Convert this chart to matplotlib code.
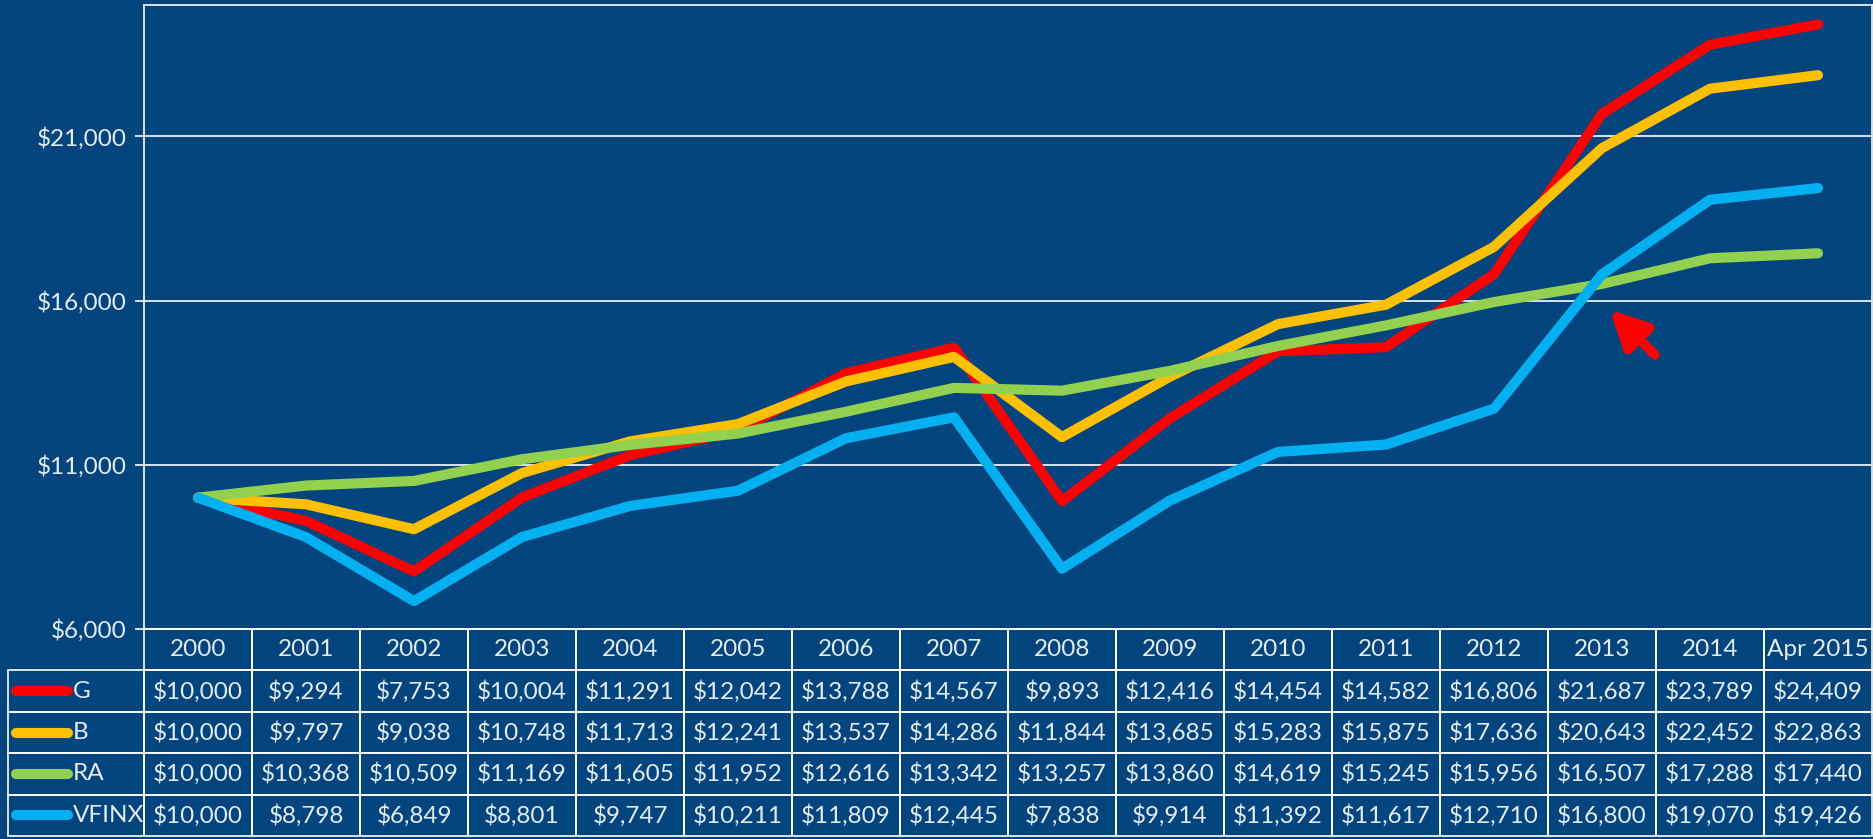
import numpy as np
import matplotlib
matplotlib.use("Agg")
import matplotlib.pyplot as plt
from matplotlib.lines import Line2D

plt.rcParams['font.family'] = ['Lato', 'DejaVu Sans']

# Data
years = ["2000", "2001", "2002", "2003", "2004", "2005", "2006", "2007",
         "2008", "2009", "2010", "2011", "2012", "2013", "2014", "Apr 2015"]
g_vals = [10000, 9294, 7753, 10004, 11291, 12042, 13788, 14567,
          9893, 12416, 14454, 14582, 16806, 21687, 23789, 24409]
b_vals = [10000, 9797, 9038, 10748, 11713, 12241, 13537, 14286,
          11844, 13685, 15283, 15875, 17636, 20643, 22452, 22863]
ra_vals = [10000, 10368, 10509, 11169, 11605, 11952, 12616, 13342,
           13257, 13860, 14619, 15245, 15956, 16507, 17288, 17440]
vfinx_vals = [10000, 8798, 6849, 8801, 9747, 10211, 11809, 12445,
              7838, 9914, 11392, 11617, 12710, 16800, 19070, 19426]
series_names = ["G", "B", "RA", "VFINX"]
series_vals = [g_vals, b_vals, ra_vals, vfinx_vals]
y_ticks = [6000, 11000, 16000, 21000]

# Styling
BG = "#01447E"
TXT = "#E4ECF4"
FS = 17.5
colors = ["#FF0000", "#FFC000", "#92D050", "#00B0F0"]

# arrow annotation (tip, tail) in data units
arrow_tip = (13.07, 15730)
arrow_tail = (13.49, 14350)

W, H = 1874, 839
fig = plt.figure(figsize=(W / 100, H / 100), dpi=100, facecolor=BG)
ax_l, ax_r, ax_t, ax_b = 144, 1872, 5, 629
ax = fig.add_axes([ax_l / W, 1 - ax_b / H, (ax_r - ax_l) / W, (ax_b - ax_t) / H])
ax.set_facecolor(BG)

x = np.arange(len(years))
for vals, c in zip(series_vals, colors):
    ax.plot(x, vals, color=c, lw=7.3, solid_capstyle='round',
            solid_joinstyle='round', zorder=3)

ax.set_xlim(-0.5, len(years) - 0.5)
ax.set_ylim(6000, 25000)
ax.set_yticks(y_ticks)
ax.set_yticklabels([f"${v:,}" for v in y_ticks], color=TXT, fontsize=FS)
ax.tick_params(axis='y', length=6.5, width=1.2, color='white', pad=6)
ax.set_xticks([])
ax.grid(axis='y', color='white', lw=1.2, zorder=1)
for s in ax.spines.values():
    s.set_color('white')
    s.set_linewidth(1.2)

ax.annotate("", xy=arrow_tip, xytext=arrow_tail,
            arrowprops=dict(arrowstyle="-|>,head_length=1.1,head_width=0.55",
                            mutation_scale=20, color="#FF0000", lw=7,
                            capstyle='round', shrinkA=0, shrinkB=0), zorder=5)

# Data table (values)
axw = ax_r - ax_l
axh = ax_b - ax_t
tab_top, tab_bot, tab_left = 629, 836, 8
row_h = (tab_bot - tab_top) / 5
cell_text = [[f"${v:,}" for v in vals] for vals in series_vals]
tbl = ax.table(cellText=cell_text, colLabels=years, cellLoc='center',
               bbox=[0, -(tab_bot - tab_top) / axh, 1, (tab_bot - tab_top) / axh])
# legend column
key_tbl = ax.table(cellText=[[""] for _ in series_names], cellLoc='center',
                   bbox=[(tab_left - ax_l) / axw, -(tab_bot - tab_top) / axh,
                         (ax_l - tab_left) / axw, 4 * row_h / axh])
for t in (tbl, key_tbl):
    t.auto_set_font_size(False)
    t.set_fontsize(FS)
    for cell in t.get_celld().values():
        cell.set_facecolor('none')
        cell.set_edgecolor('white')
        cell.set_linewidth(1.2)
        cell.get_text().set_color(TXT)

for i, (name, c) in enumerate(zip(series_names, colors)):
    yc = tab_top + row_h * (i + 1.5)
    fig.add_artist(Line2D([(12 + 4) / W, (72 - 4) / W], [1 - yc / H, 1 - yc / H],
                          color=c, lw=7.3, solid_capstyle='round'))
    fig.text(73 / W, 1 - yc / H, name, color=TXT, fontsize=FS,
             ha='left', va='center')

fig.savefig("out.png", dpi=100, facecolor=BG)
